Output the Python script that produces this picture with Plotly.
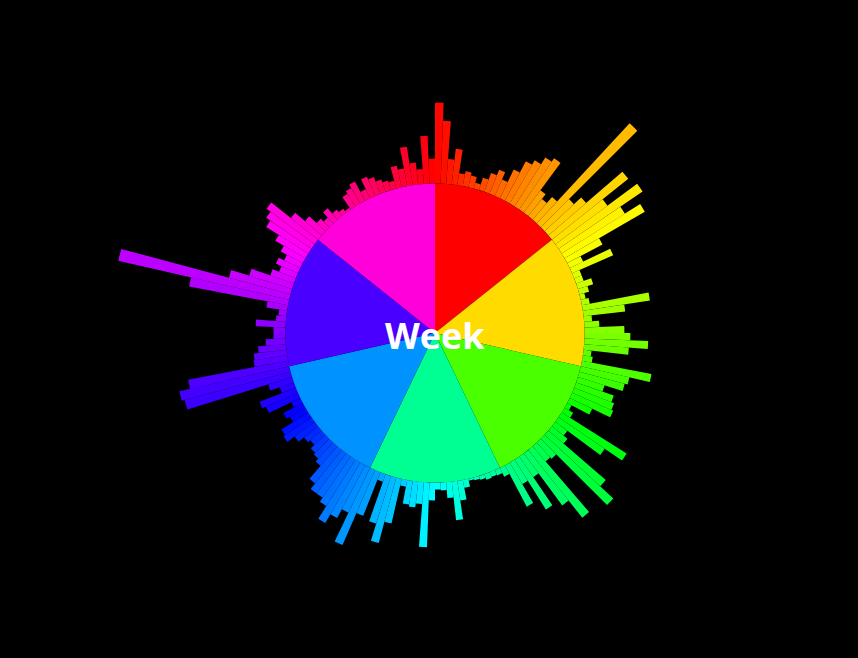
import colorsys
import plotly.graph_objects as go

# Days of the week (inner wedges) and their base radius
days = ["Mon", "Tue", "Wed", "Thu", "Fri", "Sat", "Sun"]
day_radius = [150, 150, 150, 150, 150, 150, 150]

# Hourly values (bar length beyond the inner circle), 24 per day
mon = [81, 63, 25, 36, 12, 15, 12, 6, 13, 20, 26, 18, 32, 45, 50, 58, 62, 28, 22, 30, 137, 40, 50, 98]
tue = [65, 102, 75, 93, 40, 15, 45, 8, 8, 16, 10, 5, 8, 68, 42, 8, 15, 40, 46, 64, 45, 8, 10, 71]
wed = [50, 47, 28, 40, 43, 45, 25, 5, 10, 77, 56, 15, 20, 76, 94, 22, 20, 87, 65, 25, 59, 25, 47, 10]
thu = [6, 5, 6, 4, 3, 2, 8, 20, 39, 16, 8, 7, 18, 65, 22, 26, 24, 7, 46, 68, 50, 8, 47, 82]
fri = [50, 60, 70, 55, 50, 50, 43, 26, 22, 20, 15, 18, 25, 34, 32, 18, 22, 10, 35, 39, 15, 25, 110, 113]
sat = [102, 34, 33, 28, 20, 12, 12, 30, 10, 8, 21, 101, 176, 64, 45, 25, 18, 24, 18, 25, 35, 50, 55, 60]
sun = [35, 22, 12, 8, 15, 8, 5, 2, 15, 18, 22, 10, 21, 18, 13, 10, 8, 22, 18, 39, 22, 15, 48, 25]

hours = mon + tue + wed + thu + fri + sat + sun
n_days = len(days)
n_hours = len(hours)


def hue_color(frac):
    r, g, b = colorsys.hsv_to_rgb(frac % 1.0, 1.0, 1.0)
    return "rgb(%d,%d,%d)" % (round(r * 255), round(g * 255), round(b * 255))


day_width = 360 / n_days
hour_width = 360 / n_hours
day_theta = [(i + 0.5) * day_width for i in range(n_days)]
hour_theta = [(k + 0.5) * hour_width for k in range(n_hours)]

fig = go.Figure()

# Outer ring: one bar per hour, starting at the edge of the day wedges
fig.add_trace(go.Barpolar(
    r=hours,
    base=day_radius[0],
    theta=hour_theta,
    width=[hour_width] * n_hours,
    marker=dict(color=[hue_color(t / 360) for t in hour_theta], line=dict(width=0)),
    hoverinfo="skip",
))

# Inner pie: one wedge per day
fig.add_trace(go.Barpolar(
    r=day_radius,
    theta=day_theta,
    width=[day_width] * n_days,
    text=days,
    marker=dict(color=[hue_color(i / n_days) for i in range(n_days)], line=dict(width=0)),
    hoverinfo="text",
))

cx, cy, rad = 435, 333, 325
W, H = 858, 658

fig.update_layout(
    width=W,
    height=H,
    paper_bgcolor="black",
    plot_bgcolor="black",
    showlegend=False,
    margin=dict(l=0, r=0, t=0, b=0),
    polar=dict(
        bgcolor="black",
        domain=dict(x=[(cx - rad) / W, (cx + rad) / W],
                    y=[(H - cy - rad) / H, (H - cy + rad) / H]),
        radialaxis=dict(visible=False, range=[0, 326]),
        angularaxis=dict(visible=False, direction="clockwise", rotation=90),
        barmode="overlay",
    ),
    annotations=[dict(
        text="<b>Week</b>",
        x=cx / W, y=(H - cy - 2) / H,
        xref="paper", yref="paper",
        showarrow=False,
        font=dict(family="Open Sans", size=36, color="white"),
    )],
)

# no white page margin around the figure, no modebar
fig.write_html(
    "out.html",
    config={"displayModeBar": False},
    post_script="document.body.style.margin='0';"
                "document.body.style.background='black';"
                "document.body.style.overflow='hidden';",
)
